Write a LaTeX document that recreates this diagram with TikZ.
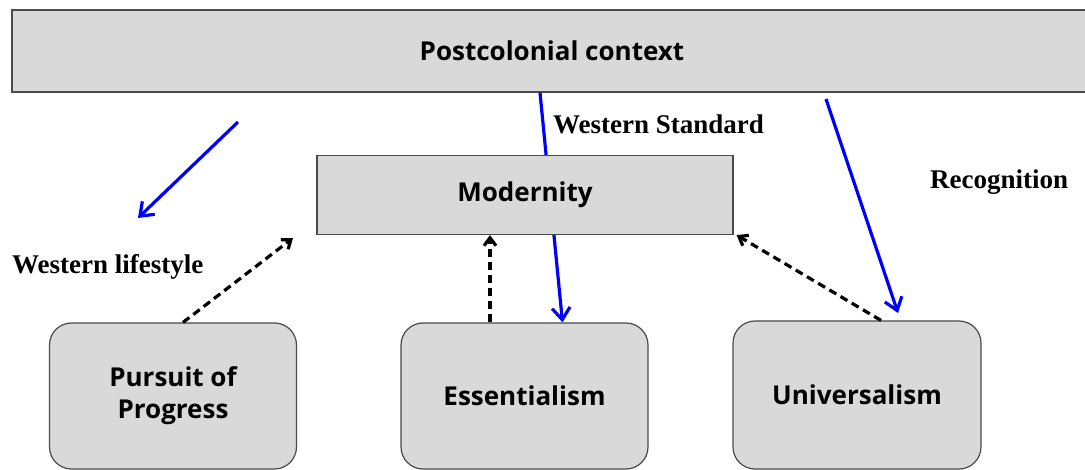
\documentclass[tikz,border=0pt]{standalone}
\usepackage{fontspec}
\setmainfont{Liberation Serif}
\setsansfont{Open Sans}
\usetikzlibrary{arrows.meta}
\definecolor{boxgray}{HTML}{D9D9D9}
\definecolor{edgegray}{HTML}{4A4A4A}
\tikzset{
  box/.style={draw=edgegray,fill=boxgray,line width=1.2pt,inner sep=0pt,align=center,
    font=\sffamily\bfseries\fontsize{26}{32}\selectfont},
  softbox/.style={box,rounded corners=22pt,minimum width=247pt,minimum height=146pt},
  bluearrow/.style={draw=blue,line width=3.2pt,-{Straight Barb[length=12pt,width=18pt,line width=3.2pt]}},
  dasharrow/.style={draw=black,line width=3.2pt,dash pattern=on 8pt off 5pt,
    -{Straight Barb[length=8pt,width=12pt,line width=3.2pt]}},
  lbl/.style={font=\bfseries\fontsize{27}{30}\selectfont,inner sep=0pt}
}
\begin{document}
\begin{tikzpicture}[x=1pt,y=-1pt]
\useasboundingbox (0,0) rectangle (1085,470);
\clip (0,0) rectangle (1085,470);
% boxes
\node[box,minimum width=1080pt,minimum height=82pt] (context) at (552,51) {Postcolonial context};
\node[softbox] (pursuit) at (173,396) {Pursuit of\\Progress};
\node[softbox] (essent) at (524.5,396) {Essentialism};
\node[softbox,minimum width=248pt,minimum height=148pt] (universal) at (857,395) {Universalism};
% blue arrows
\coordinate (lifefrom) at (238,122);
\coordinate (lifeto) at (138,218);
\coordinate (recfrom) at (826,99);
\coordinate (recto) at (898,313);
\draw[bluearrow] (lifefrom) -- (lifeto);
\draw[bluearrow] ([xshift=-12pt]context.south) -- ([xshift=38pt]essent.north);
\draw[bluearrow] (recfrom) -- (recto);
\node[box,minimum width=416pt,minimum height=79pt] (modern) at (525,195) {Modernity};
% dashed arrows
\coordinate (progto) at (293,238);
\draw[dasharrow] ([xshift=10pt]pursuit.north) -- (progto);
\draw[dasharrow] ([xshift=-34.5pt]essent.north) -- ([xshift=-35pt]modern.south);
\draw[dasharrow] ([xshift=24pt]universal.north) -- ([xshift=3pt]modern.south east);
% labels
\node[lbl,anchor=west] (standard) at (553,124) {Western Standard};
\node[lbl,anchor=west] (recog) at (930,182) {Recognition};
\node[lbl,anchor=west] (lifestyle) at (12,267) {Western lifestyle};
\end{tikzpicture}
\end{document}
